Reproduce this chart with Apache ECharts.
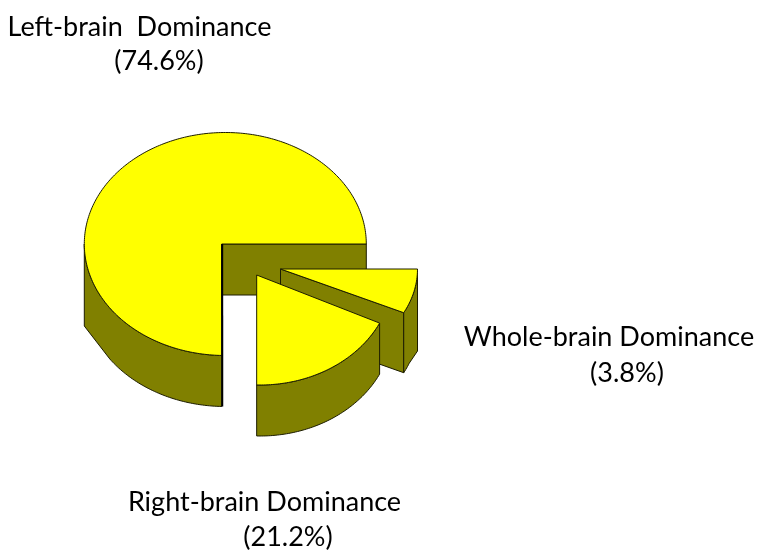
<!DOCTYPE html>
<html>
<head>
<meta charset="utf-8">
<title>Brain dominance</title>
<style>
  html, body { margin: 0; padding: 0; background: #fff; }
  #main { width: 757px; height: 550px; }
</style>
<script src="https://cdn.jsdelivr.net/npm/echarts@6/dist/echarts.min.js"></script>
</head>
<body>
<div id="main"></div>
<script>
// slice names and the percentages printed next to them
var names = ['Left-brain  Dominance', 'Right-brain Dominance', 'Whole-brain Dominance'];
var printedShares = ['74.6', '21.2', '3.8'];
// the wedges in the picture are not quite what the labels say, so these are read off the drawing
var drawnShares = [74.6, 18.2, 7.2];

// where each wedge sits on the page (same order as names)
// cornerAt / sideY: the lower rim leaves its curve at that angle and runs straight to the side edge at sideY
var wedges = [
  { cx: 225.3, cy: 244, rx: 141, ry: 111.5, depth: 51, apexX: 221.7, wall: 'start', endLine: true, cornerAt: 215, sideY: 326 },
  { cx: 260, cy: 275, rx: 133, ry: 110, depth: 51, apexX: 256.7 },
  { cx: 280.5, cy: 269, rx: 137, ry: 100, depth: 60, apexX: 280.5, wall: 'start', cornerAt: 340, sideY: 351 }
];
var labelPos = [
  [[139.5, 27], [159, 61]],
  [[264.5, 502], [288, 537]],
  [[609, 337], [627, 373]]
];
// back to front
var drawOrder = [0, 2, 1];

var YELLOW = '#ffff00', OLIVE = '#808000', EDGE = '#1c1c00';

// running start angle of every slice, counter clockwise from east
var rows = [], total = 0;
drawnShares.forEach(function (v, i) {
  rows[i] = [i, total * 3.6, v * 3.6];
  total += v;
});

function pt(w, deg, drop) {
  var a = deg * Math.PI / 180;
  return [w.cx + w.rx * Math.cos(a), w.cy - w.ry * Math.sin(a) + (drop || 0)];
}

function arc(w, from, to, drop) {
  var out = [], n = Math.max(2, Math.ceil(Math.abs(to - from)));
  for (var i = 0; i <= n; i++) {
    out.push(pt(w, from + (to - from) * i / n, drop));
  }
  return out;
}

function poly(points, fill, lineWidth) {
  return {
    type: 'polygon',
    shape: { points: points },
    style: { fill: fill, stroke: EDGE, lineWidth: lineWidth || 1, lineJoin: 'round' }
  };
}

// lower edge of the rim, squared off at the outer side when the wedge has a corner
function lowerRim(w, a, b) {
  if (!w.cornerAt) return arc(w, b, a, w.depth);
  if (w.cornerAt < 270) {
    var left = arc(w, b, w.cornerAt, w.depth);
    left.push([pt(w, a)[0], w.sideY]);
    return left;
  }
  var right = arc(w, w.cornerAt, a, w.depth);
  right.unshift([pt(w, b)[0], w.sideY]);
  return right;
}

function renderItem(params, api) {
  var w = wedges[api.value(0)];
  var start = api.value(1), end = start + api.value(2);
  var apex = [w.apexX, w.cy];
  var kids = [];

  // cut face under the leading edge
  if (w.wall === 'start') {
    var e = pt(w, start);
    kids.push(poly([apex, e, [e[0], e[1] + w.depth], [apex[0], apex[1] + w.depth]], OLIVE));
  }
  // rim, only the part facing the viewer
  var a = Math.max(start, 180), b = Math.min(end, 360);
  if (b > a) {
    kids.push(poly(arc(w, a, b, 0).concat(lowerRim(w, a, b)), OLIVE));
  }
  // top face
  kids.push(poly([apex].concat(arc(w, start, end, 0)), YELLOW));
  // the trailing cut is seen edge on, it shows as a heavy dark line
  if (w.endLine) {
    var f = pt(w, end, w.depth);
    kids.push({
      type: 'line',
      shape: { x1: apex[0] + 0.5, y1: apex[1], x2: f[0] + 0.5, y2: f[1] },
      style: { stroke: '#000', lineWidth: 2 }
    });
  }
  return { type: 'group', children: kids };
}

var option = {
  animation: false,
  backgroundColor: '#fff',
  series: [{
    type: 'custom',
    coordinateSystem: 'none',
    renderItem: renderItem,
    silent: true,
    data: drawOrder.map(function (i) { return rows[i]; })
  }],
  graphic: []
};

names.forEach(function (name, i) {
  [name, '(' + printedShares[i] + '%)'].forEach(function (line, j) {
    option.graphic.push({
      type: 'text',
      x: labelPos[i][j][0],
      y: labelPos[i][j][1],
      style: {
        text: line,
        fill: '#000',
        font: '27px Lato',
        align: 'center',
        verticalAlign: 'middle'
      }
    });
  });
});

var chart = echarts.init(document.getElementById('main'));
chart.setOption(option);
</script>
</body>
</html>
